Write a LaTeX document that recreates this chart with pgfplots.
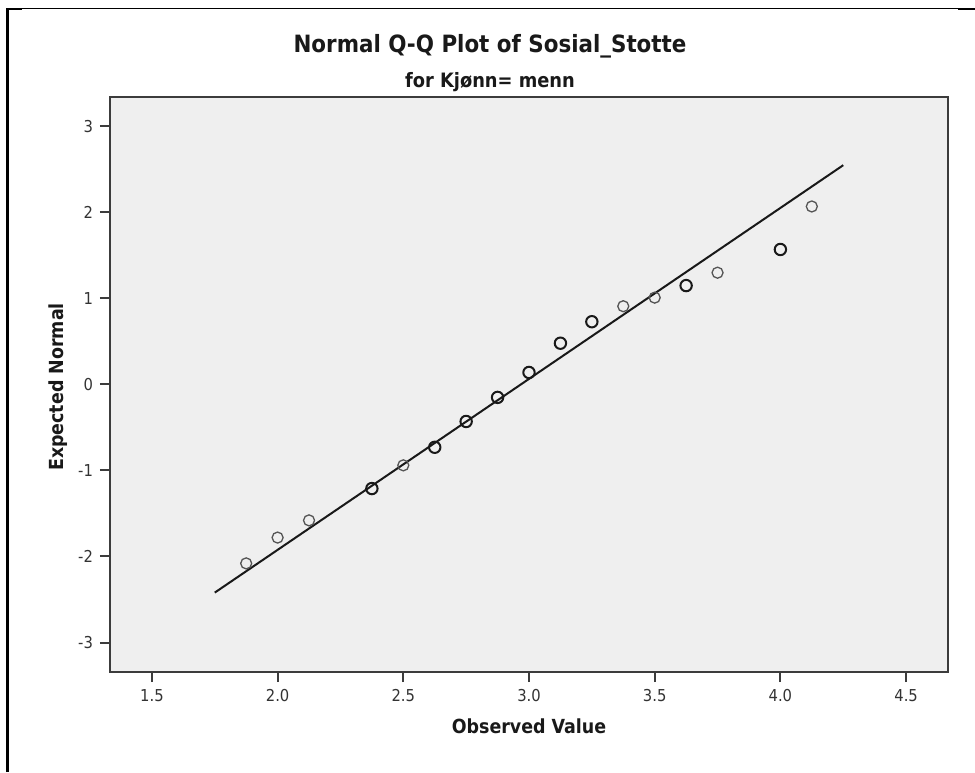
\documentclass[border=0pt]{standalone}
\usepackage{pgfplots}
\pgfplotsset{compat=1.18}
\usepackage{fontspec}
\setmainfont{DejaVu Sans}
\newfontfamily\cond{DejaVu Sans Condensed}
\definecolor{bgc}{RGB}{239,239,239}
\definecolor{axc}{RGB}{60,60,60}
\definecolor{ptl}{RGB}{85,85,85}
\begin{document}
\begin{tikzpicture}[x=1pt,y=1pt]
\useasboundingbox (0,0) rectangle (487.5,386);
% outer frame
\draw[line width=1.25pt] (3.75,0) -- (3.75,382);
\draw[line width=0.5pt] (3.75,381.75) -- (487.5,381.75);
\draw[line width=1pt] (3.5,381.6) -- (11,381.6);
\draw[line width=1pt] (479,381.4) -- (487.5,381.4);
\begin{axis}[
  at={(55pt,50pt)}, anchor=south west,
  width=419pt, height=287.5pt, scale only axis,
  xmin=1.3333, xmax=4.6667, ymin=-3.343, ymax=3.343,
  xtick={1.5,2.0,2.5,3.0,3.5,4.0,4.5},
  ytick={-3,-2,-1,0,1,2,3},
  xticklabel style={/pgf/number format/.cd,fixed,fixed zerofill,precision=1},
  xtick pos=bottom, ytick pos=left,
  tick align=outside, major tick length=5pt,
  tick style={axc, line width=1pt},
  axis line style={axc, line width=1.1pt},
  axis background/.style={fill=bgc},
  ticklabel style={font=\cond\fontsize{8.2}{9.8}\selectfont, text=black!80},
  /pgf/number format/assume math mode=true,
  clip=false,
]
\addplot[black!90, line width=1pt] coordinates {(1.75,-2.42) (4.25,2.55)};
% lighter (single) points
\addplot[only marks, mark=o, mark size=2.75pt, mark options={draw=ptl, line width=0.65pt}] coordinates {
(1.875,-2.08) (2.000,-1.78) (2.125,-1.58) (2.500,-0.94) (3.375,0.91) (3.500,1.01) (3.750,1.30) (4.125,2.07)
};
% darker (repeated) points
\addplot[only marks, mark=o, mark size=2.85pt, mark options={draw=black!90, line width=1pt}] coordinates {
(2.375,-1.21) (2.625,-0.73) (2.750,-0.43) (2.875,-0.15) (3.000,0.14) (3.125,0.48) (3.250,0.73) (3.625,1.15) (4.000,1.57)
};
\end{axis}
% titles and labels
\node[anchor=base, inner sep=0, font=\cond\bfseries\fontsize{11.9}{14}\selectfont, text=black!90] at (245,359.5) {Normal Q-Q Plot of Sosial\_Stotte};
\node[anchor=base, inner sep=0, font=\cond\bfseries\fontsize{9.9}{12}\selectfont, text=black!90] at (245,342) {for Kjønn= menn};
\node[anchor=base, inner sep=0, font=\cond\bfseries\fontsize{9.7}{12}\selectfont, text=black!90] at (264.5,19.5) {Observed Value};
\node[anchor=base, inner sep=0, rotate=90, font=\cond\bfseries\fontsize{9.7}{12}\selectfont, text=black!90] at (31.5,192.5) {Expected Normal};
\end{tikzpicture}
\end{document}
